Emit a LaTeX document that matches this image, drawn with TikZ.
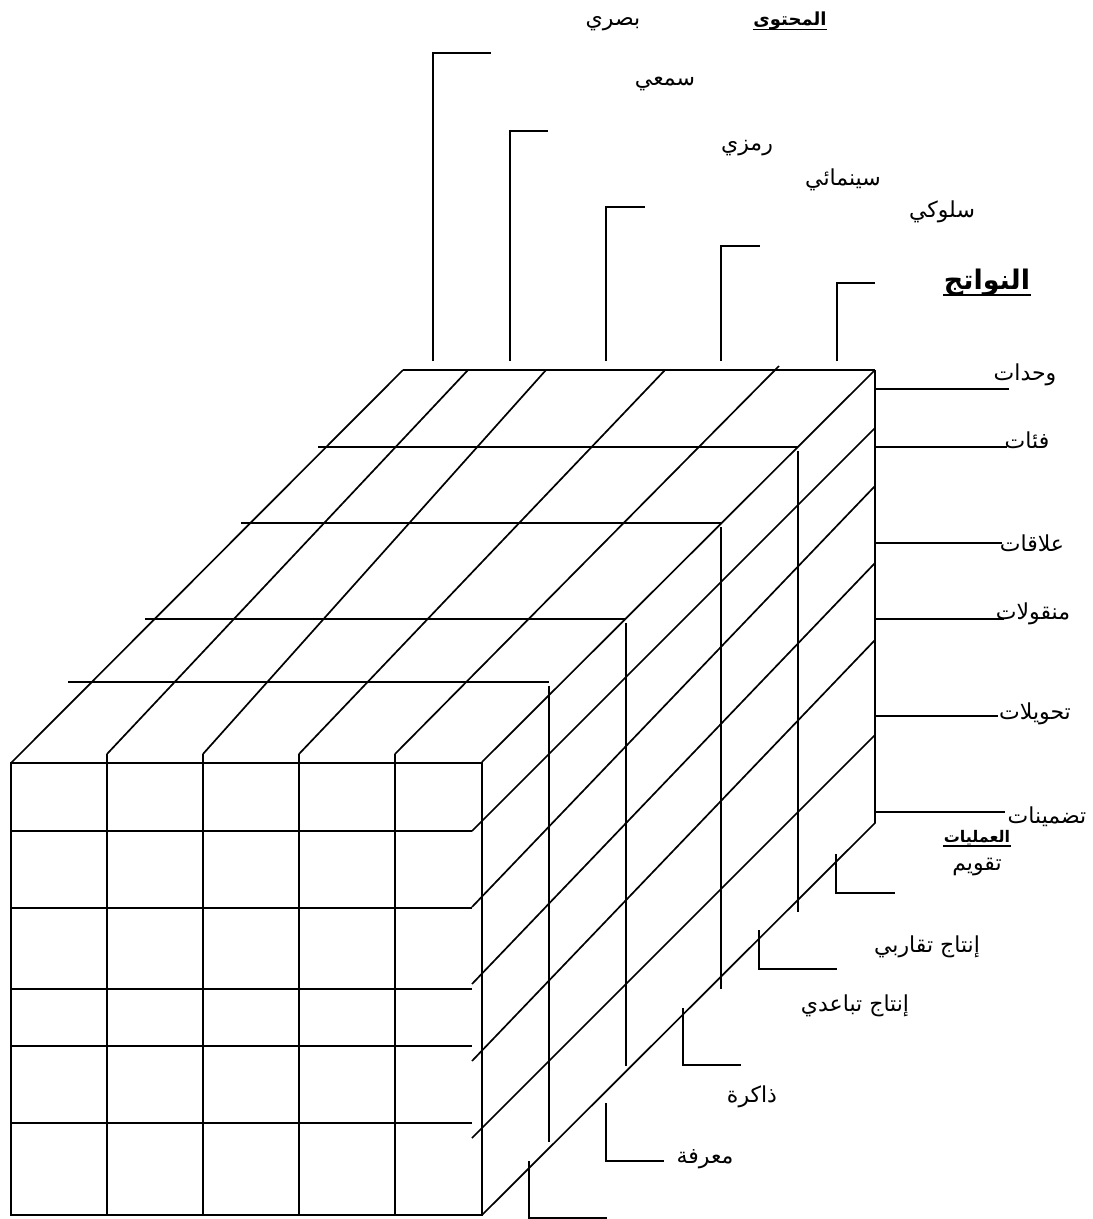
\documentclass[tikz,border=0pt]{standalone}
\usepackage{fontspec}
\newfontfamily\arabicfont[Script=Arabic]{DejaVu Sans}
\TeXXeTstate=1
\begin{document}
\begin{tikzpicture}[x=1pt,y=-1pt,line width=1.7pt,line join=miter]
\tikzset{
  lbl/.style={font=\arabicfont\fontsize{22}{26}\selectfont,inner sep=0pt,anchor=center},
  hdr/.style={font=\arabicfont\bfseries\fontsize{18}{22}\selectfont,inner sep=0pt,anchor=center},
  smallhdr/.style={font=\arabicfont\bfseries\fontsize{16}{19}\selectfont,inner sep=0pt,anchor=center},
  bighdr/.style={font=\arabicfont\bfseries\fontsize{27}{31}\selectfont,inner sep=0pt,anchor=center},
  ul/.style={line width=1.7pt}
}
\useasboundingbox (0,0) rectangle (1093,1219);
% ---------- front face ----------
\draw (11,763) rectangle (482,1215);
\foreach \x in {107,203,299,395} \draw (\x,754) -- (\x,1215);
\foreach \y in {831,908,989,1046,1123} \draw (11,\y) -- (472,\y);
% ---------- top face ----------
\draw (403,370) -- (875,370);
\draw (11,763) -- (403,370);
\draw (107,754) -- (468,370);
\draw (203,754) -- (546,370);
\draw (299,754) -- (665,370);
\draw (395,754) -- (779,366);
\draw (482,762) -- (875,370);
% hidden layer lines
\draw (318,447) -- (798,447); \draw (798,451) -- (798,912);
\draw (241,523) -- (721,523); \draw (721,527) -- (721,989);
\draw (145,619) -- (626,619); \draw (626,623) -- (626,1066);
\draw (68,682) -- (549,682);  \draw (549,686) -- (549,1142);
% ---------- right face ----------
\draw (875,370) -- (875,823) -- (482,1215);
\draw (472,831) -- (875,428);
\draw (472,907) -- (875,486);
\draw (472,984) -- (875,563);
\draw (472,1061) -- (875,640);
\draw (472,1138) -- (875,735);
% ---------- top brackets ----------
\draw (433,361) -- (433,53) -- (491,53);
\draw (510,361) -- (510,131) -- (548,131);
\draw (606,361) -- (606,207) -- (645,207);
\draw (721,361) -- (721,246) -- (760,246);
\draw (837,361) -- (837,283) -- (875,283);
% ---------- right ticks ----------
\draw (875,389) -- (1009,389);
\draw (875,447) -- (1007,447);
\draw (875,543) -- (1002,543);
\draw (875,619) -- (1004,619);
\draw (875,716) -- (998,716);
\draw (875,812) -- (1005,812);
% ---------- bottom brackets ----------
\draw (836,854) -- (836,893) -- (895,893);
\draw (759,930) -- (759,969) -- (837,969);
\draw (683,1008) -- (683,1065) -- (741,1065);
\draw (606,1103) -- (606,1161) -- (664,1161);
\draw (529,1161) -- (529,1218) -- (607,1218);
% ---------- labels ----------
\node[hdr] (content) at (790,21) {\beginR المحتوى\endR};
\draw[ul] ([yshift=-4pt]content.base west) -- ([yshift=-4pt]content.base east);
\node[lbl] (visual) at (613,24) {\beginR بصري\endR};
\node[lbl] (audit) at (665,84) {\beginR سمعي\endR};
\node[lbl] (symb) at (747,148) {\beginR رمزي\endR};
\node[lbl] (cine) at (843,180) {\beginR سينمائي\endR};
\node[lbl] (behav) at (942,212) {\beginR سلوكي\endR};
\node[bighdr] (products) at (987,283) {\beginR النواتج\endR};
\draw[ul] ([yshift=-5pt]products.base west) -- ([yshift=-5pt]products.base east);
\node[lbl] (units) at (1025,375) {\beginR وحدات\endR};
\node[lbl] (classes) at (1027,440) {\beginR فئات\endR};
\node[lbl] (relations) at (1032,543) {\beginR علاقات\endR};
\node[lbl] (transf) at (1033,614) {\beginR منقولات\endR};
\node[lbl] (transform) at (1035,714) {\beginR تحويلات\endR};
\node[lbl] (implic) at (1047,817) {\beginR تضمينات\endR};
\node[smallhdr] (ops) at (977,838) {\beginR العمليات\endR};
\draw[ul] ([yshift=-3pt]ops.base west) -- ([yshift=-3pt]ops.base east);
\node[lbl] (eval) at (977,867) {\beginR تقويم\endR};
\node[lbl] (conv) at (927,947) {\beginR إنتاج تقاربي\endR};
\node[lbl] (div) at (855,1006) {\beginR إنتاج تباعدي\endR};
\node[lbl] (memory) at (752,1097) {\beginR ذاكرة\endR};
\node[lbl] (cogn) at (705,1159) {\beginR معرفة\endR};
\end{tikzpicture}
\end{document}
